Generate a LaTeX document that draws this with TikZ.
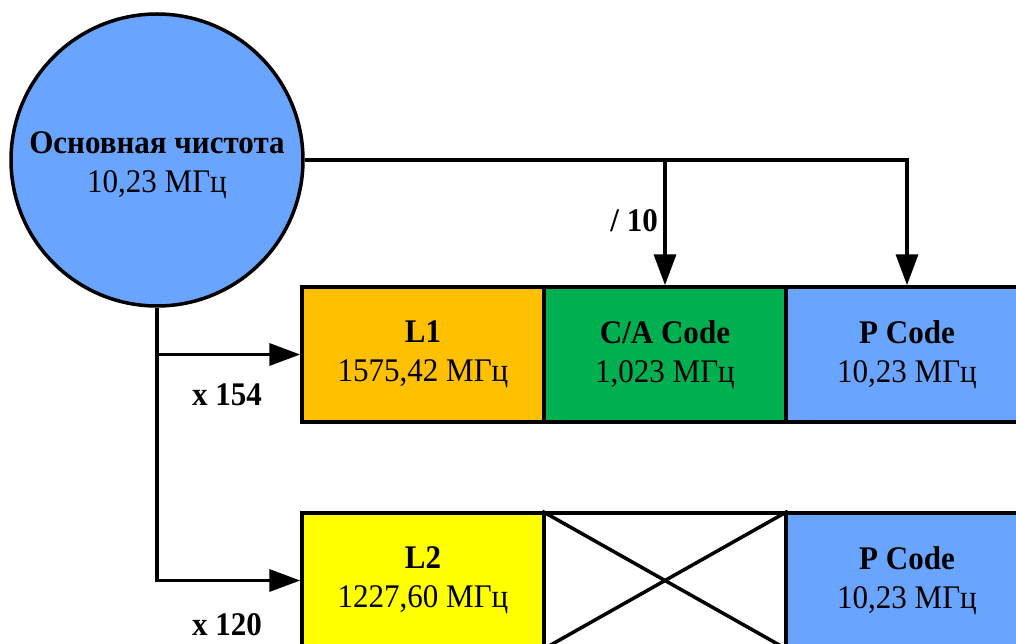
\documentclass[tikz,border=0pt]{standalone}
\usepackage{fontspec}
\setmainfont{Liberation Serif}[FakeStretch=0.94]
\usetikzlibrary{arrows.meta}
\definecolor{cblue}{RGB}{105,165,255}
\definecolor{corange}{RGB}{255,192,0}
\definecolor{cgreen}{RGB}{0,176,80}
\definecolor{cyellow}{RGB}{255,255,0}
\tikzset{
  txt/.style={font=\fontsize{33}{39}\selectfont, align=center},
  cell/.style={draw, line width=3.5pt, minimum width=242pt, minimum height=135pt, inner sep=0pt, txt},
  conn/.style={line width=3.5pt},
  arr/.style={conn, -{Triangle[length=31pt,width=22pt]}},
  lbl/.style={font=\fontsize{33}{39}\selectfont\bfseries, inner sep=0pt}
}
\begin{document}
\begin{tikzpicture}[x=1pt,y=-1pt]
\useasboundingbox (0,0) rectangle (1016,644);
\clip (0,0) rectangle (1016,644);
\node[circle, draw, line width=3.5pt, fill=cblue, minimum size=292pt, inner sep=0pt] (osc) at (157,160) {};
\node[txt, inner sep=0pt] (osctext) at ([yshift=-5pt]osc.center) {\textbf{Основная чистота}\\10,23 МГц};
\node[cell, fill=corange] (l1) at (423,354.5) {\textbf{L1}\\1575,42 МГц};
\node[cell, fill=cgreen] (ca) at (665,354.5) {\textbf{C/A Code}\\1,023 МГц};
\node[cell, fill=cblue] (p1) at (907,354.5) {\textbf{P Code}\\10,23 МГц};
\node[cell, fill=cyellow] (l2) at (423,580.5) {\textbf{L2}\\1227,60 МГц};
\node[cell, fill=white] (x2) at (665,580.5) {};
\node[cell, fill=cblue] (p2) at (907,580.5) {\textbf{P Code}\\10,23 МГц};
\draw[conn] (x2.north west) -- (x2.south east);
\draw[conn] (x2.south west) -- (x2.north east);
\coordinate (j1) at (ca.north |- osc.east);
\coordinate (j2) at (osc.south |- l1.west);
\draw[arr] (osc.east) -| (p1.north);
\draw[arr] (j1) -- (ca.north);
\draw[arr] (osc.south) |- (l2.west);
\draw[arr] (j2) -- (l1.west);
\node[lbl, anchor=base east] (d10) at (658,232) {/ 10};
\node[lbl, anchor=base west] (m154) at (192,405) {x 154};
\node[lbl, anchor=base west] (m120) at (192,635) {x 120};
\end{tikzpicture}
\end{document}
